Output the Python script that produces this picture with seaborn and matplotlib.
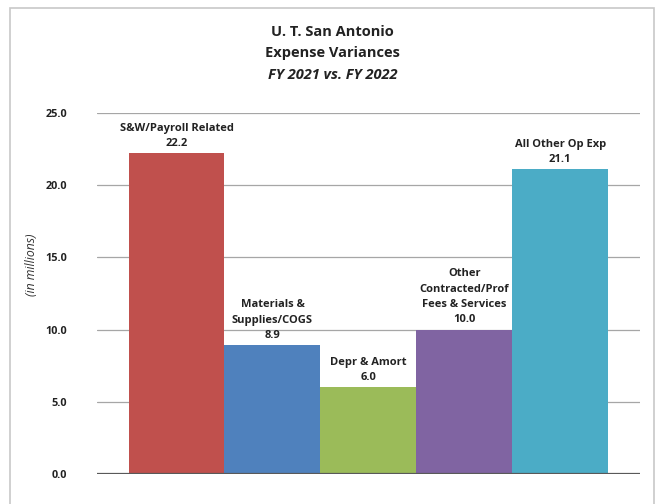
"""
U. T. San Antonio - expense variances FY 2021 vs FY 2022.
"""

import matplotlib
matplotlib.use('Agg')
import matplotlib.pyplot as plt
from matplotlib.patches import Rectangle
import seaborn as sns
import pandas as pd

# Data
categorias = [
    'S&W/Payroll Related',
    'Materials &\nSupplies/COGS',
    'Depr & Amort',
    'Other\nContracted/Prof\nFees & Services',
    'All Other Op Exp',
]
variancias = [22.2, 8.9, 6.0, 10.0, 21.1]
cores = ['#C0504D', '#4F81BD', '#9BBB59', '#8064A2', '#4BACC6']
yticks = [0.0, 5.0, 10.0, 15.0, 20.0, 25.0]

sns.set_theme(style='white')
plt.rcParams['font.family'] = ['Open Sans', 'DejaVu Sans']

df = pd.DataFrame({'categoria': categorias, 'valor': variancias})

fig = plt.figure(figsize=(6.59, 5.04), dpi=100)
ax = fig.add_axes([0.147, 0.0595, 0.824, 0.7165])

sns.barplot(data=df, x='categoria', y='valor', hue='categoria',
            palette=cores, width=1.0, legend=False, saturation=1,
            linewidth=0, ax=ax)

ax.set_ylim(0, 25)
ax.set_xlim(-0.5 - 0.33, len(categorias) - 0.5 + 0.33)
ax.set_yticks(yticks)
ax.set_yticklabels([f'{t:.1f}' for t in yticks], fontsize=7.8,
                   fontweight='bold', color='#222222')
ax.set_xticks([])
ax.set_xlabel('')
ax.set_ylabel('(in millions)', fontsize=8.8, style='italic', color='#333333')
ax.yaxis.set_label_coords(-0.108, 0.58)
ax.tick_params(axis='y', length=0, pad=21.5)

# Gridlines
for t in yticks[1:]:
    ax.axhline(t, color='#A6A6A6', linewidth=0.9, zorder=0)
ax.axhline(0, color='#595959', linewidth=1.6, zorder=3)
for lado in ['top', 'right', 'left', 'bottom']:
    ax.spines[lado].set_visible(False)

# Labels above the bars
for i, (nome, v) in enumerate(zip(categorias, variancias)):
    ax.annotate(f'{nome}\n{v:.1f}', xy=(i, v), xytext=(0, 3),
                textcoords='offset points', ha='center', va='bottom',
                fontsize=8, fontweight='bold', color='#222222',
                linespacing=1.55)

# Title
fig.text(0.505, 0.937, 'U. T. San Antonio', ha='center', va='center',
         fontsize=10.5, fontweight='bold', color='#222222')
fig.text(0.505, 0.895, 'Expense Variances', ha='center', va='center',
         fontsize=10.5, fontweight='bold', color='#222222')
fig.text(0.505, 0.852, 'FY 2021 vs. FY 2022', ha='center', va='center',
         fontsize=10.5, fontweight='bold', style='italic', color='#222222')

# Chart frame
fig.patches.append(Rectangle((10 / 659, -0.05), 644 / 659, 1.05 - 8 / 504,
                             transform=fig.transFigure, fill=False,
                             edgecolor='#C8C8C8', linewidth=1.2))

plt.savefig('out.png', dpi=100)
plt.close()
